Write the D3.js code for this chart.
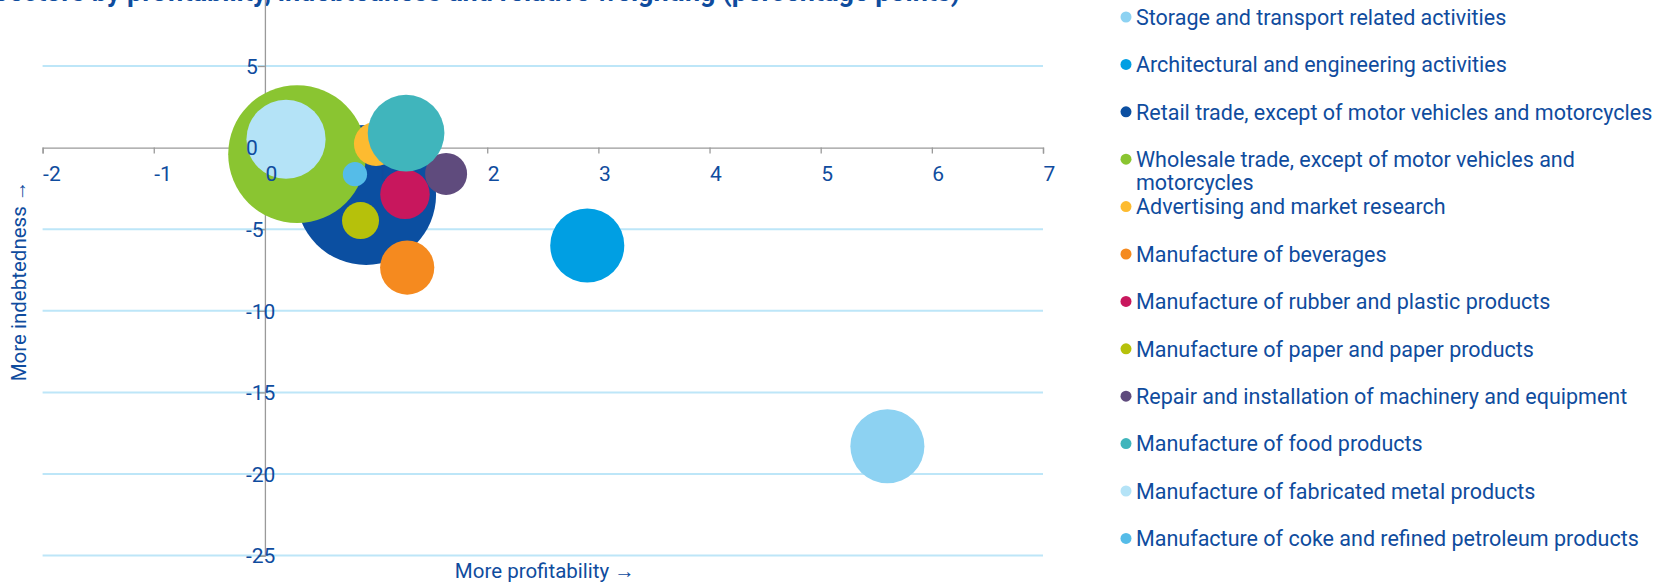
<!DOCTYPE html>
<html>
<head>
<meta charset="utf-8">
<script src="https://cdn.jsdelivr.net/npm/d3@7"></script>
<style>
  html, body { margin: 0; padding: 0; background: #ffffff; }
  svg { display: block; }
  text { font-family: Roboto, "Open Sans", sans-serif; fill: #0f4c9e; }
</style>
</head>
<body>
<svg id="chart" width="1669" height="583"></svg>
<script>
// Sectors shown as bubbles
const categories = [
  "Storage and transport related activities",
  "Architectural and engineering activities",
  "Retail trade, except of motor vehicles and motorcycles",
  "Wholesale trade, except of motor vehicles and motorcycles",
  "Advertising and market research",
  "Manufacture of beverages",
  "Manufacture of rubber and plastic products",
  "Manufacture of paper and paper products",
  "Repair and installation of machinery and equipment",
  "Manufacture of food products",
  "Manufacture of fabricated metal products",
  "Manufacture of coke and refined petroleum products"
];
// x: profitability gap, y: indebtedness gap (percentage points)
const profitability = [5.6, 2.9, 0.91, 0.29, 1.0, 1.28, 1.26, 0.86, 1.63, 1.27, 0.19, 0.81];
const indebtedness  = [-18.3, -6.0, -2.9, -0.4, 0.23, -7.35, -2.86, -4.47, -1.61, 0.89, 0.51, -1.63];
// bubble size: weight of the sector
const sectorWeight  = [2.8, 2.8, 10.0, 9.7, 1.0, 1.5, 1.25, 0.7, 0.9, 3.0, 3.2, 0.3];
const colors = ["#8dd2f2", "#009fe3", "#0b4fa1", "#8ac531", "#fdbb30", "#f58a1f",
                "#c8175d", "#b6c10b", "#5f4b7d", "#40b5bc", "#b4e3f7", "#55bce8"];

const xTicks = [-2, -1, 0, 1, 2, 3, 4, 5, 6, 7];
const yTicks = [-25, -20, -15, -10, -5, 0, 5];
const gridValues = [-25, -20, -15, -10, -5, 5, 10];

const titleText = "Sectors by profitability, indebtedness and relative weighting (percentage points)";
const xTitle = "More profitability \u2192";
const yTitle = "More indebtedness \u2192";

const svg = d3.select("#chart");

const x = d3.scaleLinear().domain([-2, 7]).range([42.6, 1043]);
const y = d3.scaleLinear().domain([-25, 10]).range([555.6, -15.6]);
const r = d3.scaleSqrt().domain([0, 10]).range([0, 70]);

// title (runs above the plot)
svg.append("text")
  .attr("x", -8).attr("y", 1)
  .style("font-size", "27px").style("font-weight", "700")
  .text(titleText);

// horizontal gridlines
svg.append("g").selectAll("line").data(gridValues).join("line")
  .attr("x1", x(-2)).attr("x2", x(7))
  .attr("y1", d => y(d)).attr("y2", d => y(d))
  .attr("stroke", "#bde6f8").attr("stroke-width", 2);

// axes through the origin
const fmt = d => String(d);
const xAxis = svg.append("g")
  .attr("transform", `translate(0,${y(0)})`)
  .call(d3.axisBottom(x).tickValues(xTicks).tickFormat(fmt).tickSize(6).tickPadding(12));
const yAxis = svg.append("g")
  .attr("transform", `translate(${x(0)},0)`)
  .call(d3.axisLeft(y).tickValues(yTicks).tickFormat(fmt).tickSize(7).tickPadding(12));

[xAxis, yAxis].forEach(g => {
  g.selectAll("path, line").attr("stroke", "#9a9a9a").attr("stroke-width", 1.3);
  g.selectAll("text").style("font-size", "21px").attr("fill", "#0f4c9e");
});
yAxis.selectAll(".tick text").attr("dy", "0.35em");

// bubbles
const points = categories.map((c, i) => ({
  name: c, px: profitability[i], py: indebtedness[i], w: sectorWeight[i], color: colors[i]
}));
svg.append("g").selectAll("circle").data(points).join("circle")
  .attr("cx", d => x(d.px)).attr("cy", d => y(d.py)).attr("r", d => r(d.w))
  .attr("fill", d => d.color);

// tick labels stay on top of the bubbles
const labelLayer = svg.append("g");
[xAxis, yAxis].forEach(g => {
  g.selectAll(".tick text").each(function () {
    const tr = d3.select(this.parentNode).attr("transform");
    labelLayer.append("g").attr("transform", g.attr("transform"))
      .append("g").attr("transform", tr)
      .append(() => this.cloneNode(true));
  });
  g.selectAll(".tick text").remove();
});

// axis titles
svg.append("text")
  .attr("x", (x(-2) + x(7)) / 2 + 2).attr("y", 578)
  .attr("text-anchor", "middle").style("font-size", "20.5px")
  .text(xTitle);
svg.append("text")
  .attr("transform", `translate(26,${281}) rotate(-90)`)
  .attr("text-anchor", "middle").style("font-size", "20.5px")
  .text(yTitle);

// legend
const legend = svg.append("g").attr("transform", "translate(1126,0)");
const rowY = i => 17 + i * 47.4;
const maxWidth = 530;
points.forEach((d, i) => {
  const row = legend.append("g").attr("transform", `translate(0,${rowY(i)})`);
  row.append("circle").attr("r", 5.5).attr("fill", d.color);
  const t = row.append("text").style("font-size", "21.5px");
  const words = d.name.split(" ");
  let line = [], lineNo = 0;
  let tspan = t.append("tspan").attr("x", 10).attr("y", 0).attr("dy", "0.36em");
  words.forEach(w => {
    line.push(w);
    tspan.text(line.join(" "));
    if (tspan.node().getComputedTextLength() > maxWidth && line.length > 1) {
      line.pop();
      tspan.text(line.join(" "));
      line = [w];
      lineNo += 1;
      tspan = t.append("tspan").attr("x", 10).attr("y", lineNo * 23.4)
        .attr("dy", "0.36em").text(w);
    }
  });
});
</script>
</body>
</html>
